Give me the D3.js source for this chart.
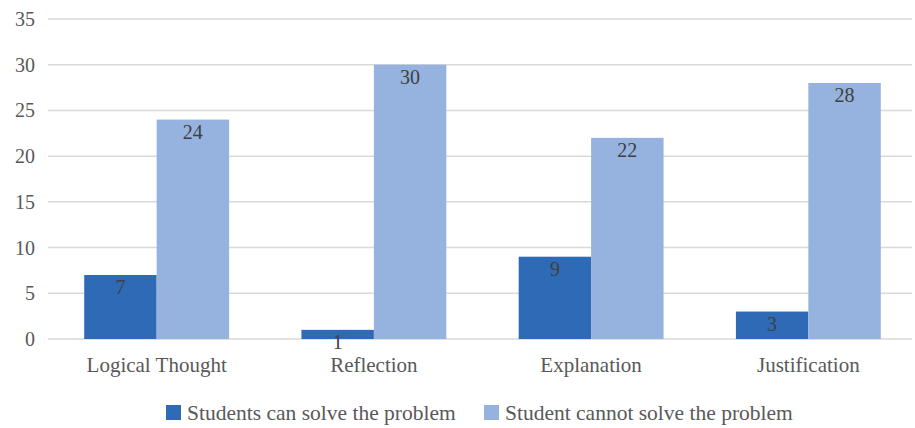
<!DOCTYPE html>
<html>
<head>
<meta charset="utf-8">
<script src="https://cdn.jsdelivr.net/npm/d3@7"></script>
<style>
  html, body { margin: 0; padding: 0; background: #fff; }
</style>
</head>
<body>
<svg id="chart" width="915" height="428" font-family="'Liberation Serif', 'DejaVu Serif', serif"></svg>
<script>
const categories = ["Logical Thought", "Reflection", "Explanation", "Justification"];
const seriesNames = ["Students can solve the problem", "Student cannot solve the problem"];
const canSolve = [7, 1, 9, 3];
const cannotSolve = [24, 30, 22, 28];
const yTicks = [0, 5, 10, 15, 20, 25, 30, 35];
const colors = ["#2E6AB5", "#95B3DE"];

(function () {
const svg = d3.select("#chart");
const mLeft = 48, mRight = 917, mTop = 19, mBottom = 339;

const x0 = d3.scaleBand().domain(categories).range([mLeft, mRight]).paddingInner(0.333).paddingOuter(0.1667);
const x1 = d3.scaleBand().domain([0, 1]).range([0, x0.bandwidth()]);
const y = d3.scaleLinear().domain([0, 35]).range([mBottom, mTop]);

// gridlines
svg.append("g").selectAll("line").data(yTicks).join("line")
  .attr("x1", mLeft).attr("x2", 912)
  .attr("y1", d => y(d)).attr("y2", d => y(d))
  .attr("stroke", "#d9d9d9").attr("stroke-width", 1.5);

// y labels
svg.append("g").selectAll("text").data(yTicks).join("text")
  .attr("x", 35).attr("y", d => y(d) + 7)
  .attr("text-anchor", "end").attr("font-size", 20)
  .attr("fill", "#595959")
  .text(d => d);

const rows = categories.map((c, i) => ({ c, vals: [canSolve[i], cannotSolve[i]] }));

const g = svg.append("g").selectAll("g").data(rows).join("g")
  .attr("transform", d => `translate(${x0(d.c)},0)`);

g.selectAll("rect").data(d => d.vals.map((v, k) => ({ v, k }))).join("rect")
  .attr("x", d => x1(d.k)).attr("width", x1.bandwidth())
  .attr("y", d => y(d.v)).attr("height", d => y(0) - y(d.v))
  .attr("fill", d => colors[d.k]);

g.selectAll("text.lbl").data(d => d.vals.map((v, k) => ({ v, k }))).join("text")
  .attr("class", "lbl")
  .attr("x", d => x1(d.k) + x1.bandwidth() / 2)
  .attr("y", d => y(d.v) + 19)
  .attr("text-anchor", "middle").attr("font-size", 20)
  .attr("fill", "#404040")
  .text(d => d.v);

// category labels
svg.append("g").selectAll("text").data(categories).join("text")
  .attr("x", d => x0(d) + x0.bandwidth() / 2).attr("y", 372)
  .attr("text-anchor", "middle").attr("font-size", 21)
  .attr("fill", "#595959")
  .text(d => d);

// legend
const legendX = [166, 484];
const lg = svg.append("g").selectAll("g").data(seriesNames).join("g")
  .attr("transform", (d, i) => `translate(${legendX[i]},0)`);
lg.append("rect").attr("x", 0).attr("y", 405).attr("width", 15).attr("height", 15)
  .attr("fill", (d, i) => colors[i]);
lg.append("text").attr("x", 21).attr("y", 420).attr("font-size", 21.5)
  .attr("fill", "#595959").text(d => d);
})();
</script>
</body>
</html>
